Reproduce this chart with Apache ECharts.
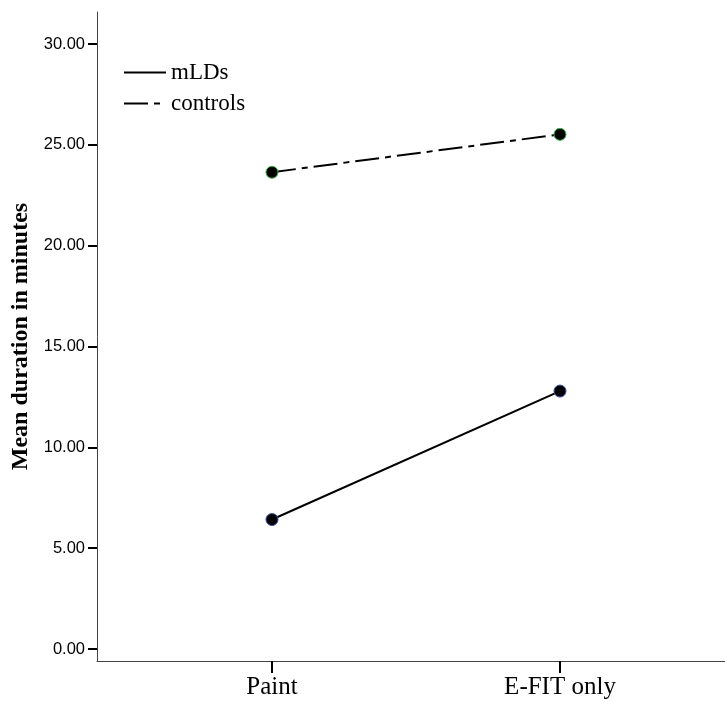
<!DOCTYPE html>
<html>
<head>
<meta charset="utf-8">
<script src="https://cdn.jsdelivr.net/npm/echarts@6/dist/echarts.min.js"></script>
<style>html,body{margin:0;padding:0;background:#fff}#c{width:725px;height:706px}</style>
</head>
<body>
<div id="c"></div>
<script>
const categories = ['Paint', 'E-FIT only'];
const seriesNames = ['mLDs', 'controls'];
const mLDs = [6.42, 12.79];
const controls = [23.64, 25.52];
const yTicks = [0, 5, 10, 15, 20, 25, 30];

const chart = echarts.init(document.getElementById('c'), null, {renderer: 'canvas'});
const toXY = arr => arr.map((v, i) => [i, v]);
chart.setOption({
  animation: false,
  backgroundColor: '#fff',
  grid: {left: 97, right: 0, top: 12, bottom: 45, containLabel: false},
  legend: {
    left: 123, top: 61, orient: 'vertical', itemGap: 8, padding: 0,
    itemWidth: 42, itemHeight: 22,
    data: seriesNames,
    itemStyle: {opacity: 0},
    textStyle: {fontFamily: 'Liberation Serif', fontSize: 23, color: '#000'}
  },
  xAxis: {
    type: 'value', min: -0.6076, max: 1.5729,
    splitLine: {show: false},
    axisLine: {onZero: false, lineStyle: {color: '#444', width: 1}},
    axisTick: {show: true, length: 12, lineStyle: {color: '#000', width: 2}, customValues: [0, 1]},
    axisLabel: {
      customValues: [0, 1], margin: 14,
      formatter: v => categories[Math.round(v)] || '',
      fontFamily: 'Liberation Serif', fontSize: 25, color: '#000'
    }
  },
  yAxis: {
    type: 'value', min: -0.595, max: 31.587,
    name: 'Mean duration in minutes', nameLocation: 'middle', nameGap: 56,
    nameTextStyle: {fontFamily: 'Liberation Serif', fontSize: 24, fontWeight: 'bold', color: '#000'},
    splitLine: {show: false},
    axisLine: {show: true, onZero: false, lineStyle: {color: '#444', width: 1}},
    axisTick: {show: true, length: 9, lineStyle: {color: '#000', width: 2}, customValues: yTicks},
    axisLabel: {
      customValues: yTicks, margin: 12,
      formatter: v => v.toFixed(2),
      fontFamily: 'Liberation Sans', fontSize: 16.5, color: '#000'
    }
  },
  series: [
    {
      name: 'mLDs', type: 'line', data: toXY(mLDs),
      symbol: 'circle', symbolSize: 12,
      lineStyle: {color: '#000', width: 2, type: 'solid'},
      itemStyle: {color: '#000', borderColor: '#3a4fa8', borderWidth: 1}
    },
    {
      name: 'controls', type: 'line', data: toXY(controls),
      symbol: 'circle', symbolSize: 12,
      lineStyle: {color: '#000', width: 2, type: [24, 6, 6, 6]},
      itemStyle: {color: '#000', borderColor: '#2fb84a', borderWidth: 1}
    }
  ]
});
</script>
</body>
</html>
